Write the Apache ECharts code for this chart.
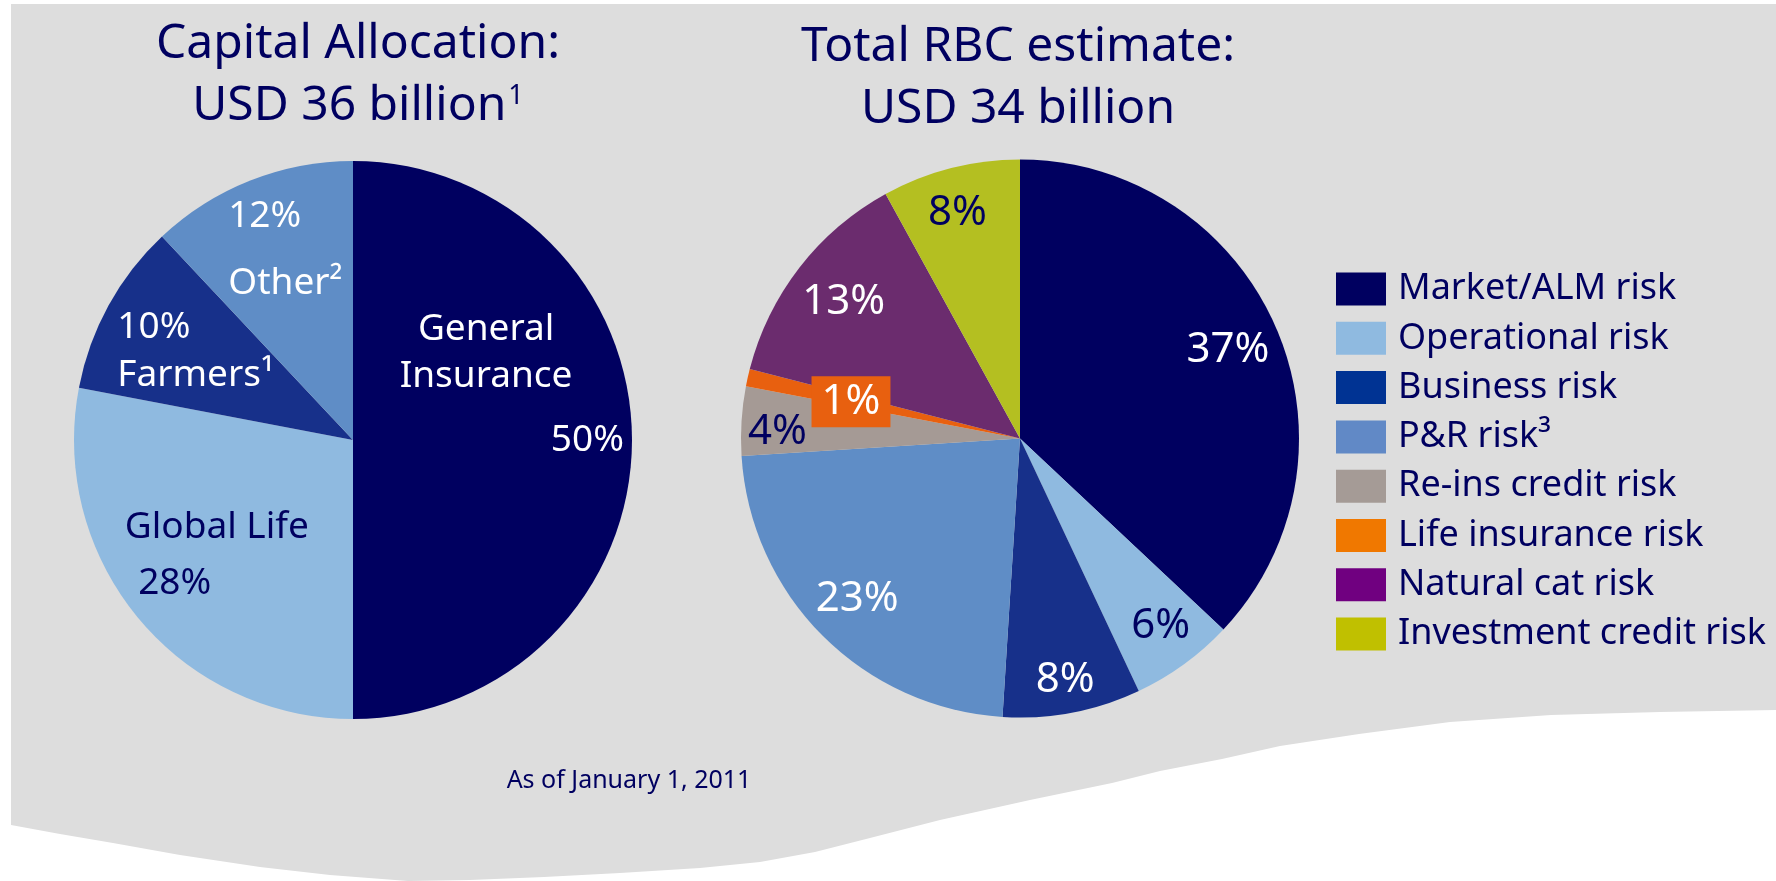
<!DOCTYPE html>
<html>
<head>
<meta charset="utf-8">
<script src="https://cdn.jsdelivr.net/npm/echarts@6/dist/echarts.min.js"></script>
<style>
  html, body { margin: 0; padding: 0; background: #ffffff; }
  #chart { width: 1776px; height: 881px; }
</style>
</head>
<body>
<div id="chart"></div>
<script>
// Capital allocation by segment, percent of USD 36 billion
const allocationNames = ['General Insurance', 'Global Life', 'Farmers¹', 'Other²'];
const allocationLabels = ['General\nInsurance', 'Global Life', 'Farmers¹', 'Other²'];
const allocationValues = [50, 28, 10, 12];

// Total risk-based capital by risk type, percent of USD 34 billion
const riskNames = ['Market/ALM risk', 'Operational risk', 'Business risk', 'P&R risk³',
  'Re-ins credit risk', 'Life insurance risk', 'Natural cat risk', 'Investment credit risk'];
const riskValues = [37, 6, 8, 23, 4, 1, 13, 8];

const allocationTitle = 'Capital Allocation:\nUSD 36 billion{sup|1}';
const riskTitle = 'Total RBC estimate:\nUSD 34 billion';
const footnote = 'As of January 1, 2011';

// ---- styling ----
const FONT = '"Noto Sans", "Open Sans", sans-serif';
const NAVY = '#000060';
const allocationColors = ['#000060', '#8fbae0', '#17308a', '#5f8dc6'];
const riskColors = ['#000060', '#8fbae0', '#17308a', '#5f8dc6', '#a59a95', '#e8600f', '#6b2c6e', '#b4bf21'];
const legendColors = ['#000060', '#8fbae0', '#003393', '#6189c6', '#a59b96', '#f07800', '#700080', '#c0c000'];
const riskLabelColors = ['#fff', NAVY, '#fff', '#fff', NAVY, '#fff', '#fff', NAVY];

const R = 279;
const leftCenter = [353, 440];
const rightCenter = [1020, 438.5];

// label anchors as [angle clockwise from 12 o'clock in degrees, fraction of radius]
const allocationNamePlace = [[56.8, 0.57], [237.3, 0.58], [292.3, 0.61], [336.6, 0.61]];
const allocationPctPlace = [[90.2, 0.84], [231.2, 0.82], [299.5, 0.82], [338.4, 0.86]];
const riskPctPlace = [[66.9, 0.81], [143.1, 0.84], [169.4, 0.88], [225.4, 0.82],
  [271.5, 0.87], [282.3, 0.62], [307.8, 0.80], [344.5, 0.84]];

function placer(center, places) {
  return function (params) {
    const p = places[params.dataIndex];
    const a = p[0] * Math.PI / 180;
    return {
      x: center[0] + p[1] * R * Math.sin(a),
      y: center[1] - p[1] * R * Math.cos(a),
      align: 'center',
      verticalAlign: 'middle'
    };
  };
}

const basePie = {
  type: 'pie',
  radius: R,
  startAngle: 90,
  clockwise: true,
  avoidLabelOverlap: false,
  labelLine: { show: false },
  emphasis: { disabled: true },
  silent: true
};

// grey backdrop panel with a wavy lower edge
const panelOutline = [[11, 4], [1776, 4], [1776, 710], [1660, 712], [1551, 715], [1450, 722],
  [1359, 734], [1280, 746], [1222, 759], [1160, 771], [1112, 783], [1030, 800], [940, 820],
  [870, 838], [815, 852], [760, 862], [700, 868], [620, 873], [544, 877], [470, 880],
  [408, 881], [330, 875], [260, 867], [180, 855], [113, 843], [60, 834], [11, 825]];

const titleStyle = {
  fontFamily: FONT, fontSize: 48, lineHeight: 62, fontWeight: 'normal', color: NAVY,
  rich: {
    sup: {
      fontFamily: FONT, fontSize: 27, lineHeight: 27, color: NAVY,
      verticalAlign: 'top', padding: [8, 0, 0, 2]
    }
  }
};

const chart = echarts.init(document.getElementById('chart'), null, { renderer: 'canvas' });

chart.setOption({
  animation: false,
  backgroundColor: '#ffffff',
  textStyle: { fontFamily: FONT },
  graphic: [{
    type: 'polygon',
    z: -10,
    silent: true,
    shape: { points: panelOutline },
    style: { fill: '#dddddd' }
  }],
  title: [
    { text: allocationTitle, left: 358, top: 13, textAlign: 'center', padding: 0, textStyle: titleStyle },
    { text: riskTitle, left: 1018, top: 16, textAlign: 'center', padding: 0, textStyle: titleStyle },
    {
      text: footnote, left: 629, top: 766, textAlign: 'center', padding: 0,
      textStyle: { fontFamily: FONT, fontSize: 25, lineHeight: 30, fontWeight: 'normal', color: NAVY }
    }
  ],
  legend: {
    orient: 'vertical',
    left: 1336,
    top: 271,
    padding: 0,
    itemWidth: 50,
    itemHeight: 33,
    itemGap: 13.3,
    icon: 'rect',
    selectedMode: false,
    textStyle: { fontFamily: FONT, fontSize: 36, lineHeight: 33, color: NAVY, padding: [0, 0, 0, 7] },
    data: riskNames.map((n, i) => ({ name: n, itemStyle: { color: legendColors[i] } }))
  },
  series: [
    // left pie: sectors with segment names
    Object.assign({}, basePie, {
      name: 'Capital Allocation',
      center: leftCenter,
      label: {
        show: true, position: 'inside', fontFamily: FONT, fontSize: 37, lineHeight: 47,
        formatter: (p) => allocationLabels[p.dataIndex]
      },
      labelLayout: placer(leftCenter, allocationNamePlace),
      data: allocationNames.map((n, i) => ({
        name: n, value: allocationValues[i],
        itemStyle: { color: allocationColors[i] },
        label: { color: i === 1 ? NAVY : '#fff' }
      }))
    }),
    // left pie: percentage labels
    Object.assign({}, basePie, {
      name: 'Capital Allocation %',
      center: leftCenter,
      itemStyle: { color: 'rgba(0,0,0,0)' },
      label: {
        show: true, position: 'inside', fontFamily: FONT, fontSize: 37,
        formatter: '{c}%'
      },
      labelLayout: placer(leftCenter, allocationPctPlace),
      data: allocationNames.map((n, i) => ({
        name: n, value: allocationValues[i],
        label: { color: i === 1 ? NAVY : '#fff' }
      }))
    }),
    // right pie: risk types
    Object.assign({}, basePie, {
      name: 'Total RBC estimate',
      center: rightCenter,
      label: {
        show: true, position: 'inside', fontFamily: FONT, fontSize: 42,
        formatter: '{c}%'
      },
      labelLayout: placer(rightCenter, riskPctPlace),
      data: riskNames.map((n, i) => ({
        name: n, value: riskValues[i],
        itemStyle: { color: riskColors[i] },
        label: i === 5
          ? { color: '#fff', backgroundColor: '#e8600f', padding: [4, 10, 4, 10], lineHeight: 43 }
          : { color: riskLabelColors[i] }
      }))
    })
  ]
});
</script>
</body>
</html>
